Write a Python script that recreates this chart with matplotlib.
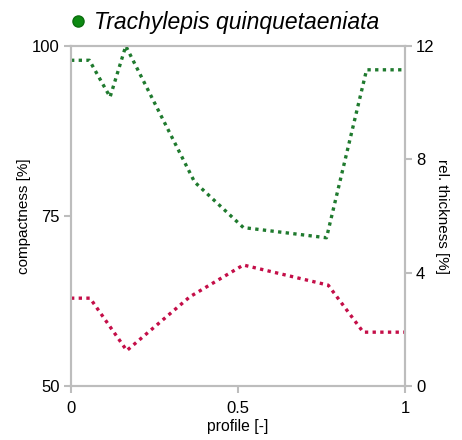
import matplotlib
matplotlib.use('Agg')
import matplotlib.pyplot as plt
from matplotlib.lines import Line2D

plt.rcParams['font.family'] = ['Liberation Sans', 'DejaVu Sans']

###############################################################
# data
###############################################################
species = 'Trachylepis quinquetaeniata'

profile_c = [0.0, 0.055, 0.117, 0.164, 0.37, 0.516, 0.765, 0.885, 1.0]
compactness = [97.9, 97.9, 92.5, 100.0, 80.0, 73.3, 71.8, 96.5, 96.5]

profile_t = [0.0, 0.057, 0.167, 0.356, 0.516, 0.77, 0.875, 1.0]
thickness = [3.1, 3.1, 1.25, 3.15, 4.27, 3.56, 1.9, 1.9]

left_ticks = [50, 75, 100]
right_ticks = [0, 4, 8, 12]
x_ticks = [0, 0.5, 1]
x_ticklabels = ['0', '0.5', '1']

###############################################################
# figure
###############################################################
fig = plt.figure(figsize=(4.62, 4.4), dpi=100)
ax = fig.add_axes([71 / 462, 1 - 386 / 440, 334 / 462, 340 / 440])
ax2 = ax.twinx()

spine_col = '#bdbdbd'
green = '#1f7a2e'
crimson = '#c40e48'
lw = 2.4
dots = (0, (1, 1.3))

ax.plot(profile_c, compactness, color=green, linewidth=lw, linestyle=dots,
        dash_capstyle='butt', clip_on=False)
ax2.plot(profile_t, thickness, color=crimson, linewidth=lw, linestyle=dots,
         dash_capstyle='butt', clip_on=False)

ax.set_xlim(0, 1)
ax.set_ylim(50, 100)
ax2.set_ylim(0, 12)
ax.set_xticks(x_ticks)
ax.set_xticklabels(x_ticklabels)
ax.set_yticks(left_ticks)
ax2.set_yticks(right_ticks)

for a in (ax, ax2):
    for s in a.spines.values():
        s.set_color(spine_col)
        s.set_linewidth(1.5)
    a.tick_params(colors=spine_col, labelcolor='black', width=1.5, length=5,
                  labelsize=12, direction='out', pad=3)
ax.tick_params(axis='x', pad=6)

ax.set_xlabel('profile [-]', fontsize=11.3, labelpad=2)
ax.set_ylabel('compactness [%]', fontsize=11, labelpad=0.5)
ax2.set_ylabel('rel. thickness [%]', fontsize=11, rotation=-90, labelpad=10)

##################################################
# species header
##################################################
handle = Line2D([], [], marker='o', linestyle='none', markersize=8,
                markerfacecolor='#0d8a12', markeredgecolor='#0a6e0e')
fig.legend([handle], [species], loc='center', bbox_to_anchor=(0.481, 1 - 23 / 440),
           frameon=False, handletextpad=0.1, borderpad=0, handlelength=1.2,
           prop={'size': 16.5, 'style': 'italic'})

fig.savefig('out.png', dpi=100)
